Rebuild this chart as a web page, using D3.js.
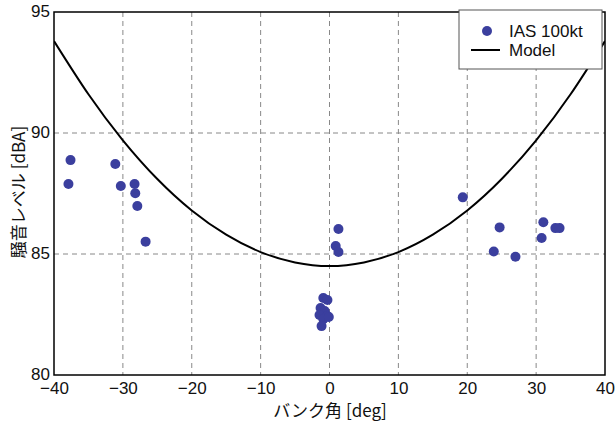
<!DOCTYPE html>
<html><head><meta charset="utf-8">
<script src="https://cdn.jsdelivr.net/npm/d3@7"></script>
<style>body{margin:0;background:#fff}svg{display:block}</style>
</head><body>
<svg id="c" width="616" height="425"></svg>
<script>
const bankAngle = [-37.6,-37.9,-31.1,-30.3,-28.3,-28.2,-27.9,-26.7,
  -0.9,-0.3,-1.3,-0.7,-1.45,-0.3,-0.9,-1.15,-0.1,1.3,0.9,1.3,
  19.35,24.7,23.85,27.0,31.05,30.8,32.8,33.4];
const noiseLevel = [88.88,87.89,88.72,87.81,87.89,87.51,86.98,85.51,
  83.18,83.1,82.77,82.64,82.48,82.44,82.31,82.02,82.4,86.03,85.33,85.08,
  87.34,86.1,85.1,84.89,86.31,85.66,86.07,86.07];
const modelAngle = [-40,-35,-30,-25,-20,-15,-10,-5,0,5,10,15,20,25,30,35,40];
const modelLevel = [93.8,91.6,89.7,88.1,86.8,85.8,85.08,84.65,84.5,84.65,85.08,85.8,86.8,88.1,89.7,91.6,93.8];
const xTicks = [-40,-30,-20,-10,0,10,20,30,40];
const yTicks = [80,85,90,95];
const seriesNames = ["IAS 100kt","Model"];

const svg = d3.select("#c");
const L=54,R=605,T=12,B=375;
const x = d3.scaleLinear().domain([-40,40]).range([L,R]);
const y = d3.scaleLinear().domain([80,95]).range([B,T]);
const ptColor = "#3b3f9e";
const font = "'Liberation Sans', Arial, sans-serif";

// grid
svg.append("g").selectAll("line").data(xTicks.slice(1,-1)).join("line")
  .attr("x1",d=>x(d)).attr("x2",d=>x(d)).attr("y1",T).attr("y2",B)
  .attr("stroke","#888").attr("stroke-width",1).attr("stroke-dasharray","5,4");
svg.append("g").selectAll("line").data(yTicks.slice(1,-1)).join("line")
  .attr("y1",d=>y(d)).attr("y2",d=>y(d)).attr("x1",L).attr("x2",R)
  .attr("stroke","#888").attr("stroke-width",1).attr("stroke-dasharray","5,4");

// axes
const xa = svg.append("g").attr("transform",`translate(0,${B})`)
  .call(d3.axisBottom(x).tickValues(xTicks).tickSize(0).tickPadding(4).tickFormat(d=>d<0?"\u2212"+Math.abs(d):d));
const ya = svg.append("g").attr("transform",`translate(${L},0)`)
  .call(d3.axisLeft(y).tickValues(yTicks).tickSize(0).tickPadding(4));
[xa,ya].forEach(a=>{a.select(".domain").remove();
  a.selectAll("text").attr("font-family",font).attr("font-size",17).attr("fill","#111");});
xa.selectAll("text").attr("dy","0.9em");
ya.selectAll("text").attr("dy","0.24em");

// clip
svg.append("clipPath").attr("id","clip").append("rect").attr("x",L).attr("y",T).attr("width",R-L).attr("height",B-T);

// model
svg.append("path").datum(modelAngle.map((a,i)=>[a,modelLevel[i]]))
  .attr("clip-path","url(#clip)")
  .attr("d",d3.line().x(d=>x(d[0])).y(d=>y(d[1])).curve(d3.curveNatural))
  .attr("fill","none").attr("stroke","#000").attr("stroke-width",2);

// points
svg.append("g").selectAll("circle").data(bankAngle.map((a,i)=>[a,noiseLevel[i]])).join("circle")
  .attr("cx",d=>x(d[0])).attr("cy",d=>y(d[1])).attr("r",5).attr("fill",ptColor);

// frame
svg.append("rect").attr("x",L).attr("y",T).attr("width",R-L).attr("height",B-T)
  .attr("fill","none").attr("stroke","#000").attr("stroke-width",1.5);

// legend
const lg = svg.append("g");
lg.append("rect").attr("x",459).attr("y",10).attr("width",143).attr("height",59)
  .attr("fill","#fff").attr("stroke","#555").attr("stroke-width",1);
lg.append("circle").attr("cx",487).attr("cy",31).attr("r",5).attr("fill",ptColor);
lg.append("line").attr("x1",471).attr("x2",500).attr("y1",50).attr("y2",50).attr("stroke","#000").attr("stroke-width",2);
lg.selectAll("text.l").data(seriesNames).join("text").attr("class","l")
  .attr("x",509).attr("y",(d,i)=>31+i*19).attr("dy","0.36em")
  .attr("font-family",font).attr("font-size",17).attr("fill","#111").text(d=>d);

// titles
svg.append("text").attr("x",330).attr("y",417).attr("text-anchor","middle")
  .attr("font-family","'Noto Sans CJK JP', sans-serif").attr("font-size",17).attr("fill","#111")
  .text("バンク角 [deg]");
svg.append("text").attr("transform","translate(25,192) rotate(-90)").attr("text-anchor","middle")
  .attr("font-family","'Noto Sans CJK JP', sans-serif").attr("font-size",17).attr("fill","#111")
  .text("騒音レベル [dBA]");
</script>
</body></html>
